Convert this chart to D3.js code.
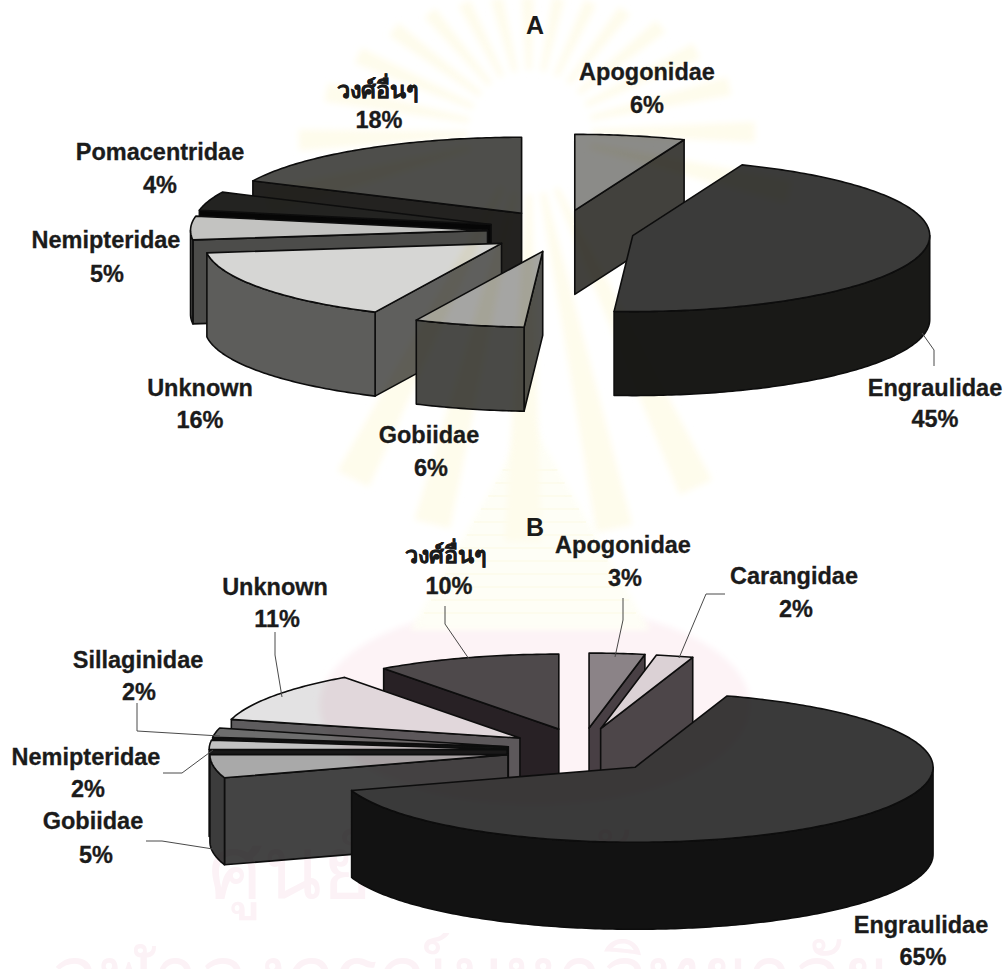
<!DOCTYPE html>
<html>
<head>
<meta charset="utf-8">
<title>Fish family composition</title>
<script src="https://cdn.jsdelivr.net/npm/d3@7/dist/d3.min.js"></script>
<style>
  html, body { margin: 0; padding: 0; background: #fff; }
  svg { display: block; }
  text { font-family: "Liberation Sans", Arial, sans-serif; font-weight: 700; fill: #1b1b1b; text-anchor: middle; }
</style>
</head>
<body>
<svg id="chart" width="1004" height="969" viewBox="0 0 1004 969">
  <defs>
    <filter id="soft" x="-10%" y="-10%" width="120%" height="120%"><feGaussianBlur stdDeviation="3"/></filter>
  </defs>
</svg>
<script>
// Family shares, clockwise from twelve o'clock.
const familiesA = ["Apogonidae", "Engraulidae", "Gobiidae", "Unknown", "Nemipteridae", "Pomacentridae", "วงศ์อื่นๆ"];
const sharesA = [6, 45, 6, 16, 5, 4, 18];
const familiesB = ["Apogonidae", "Carangidae", "Engraulidae", "Gobiidae", "Nemipteridae", "Sillaginidae", "Unknown", "วงศ์อื่นๆ"];
const sharesB = [3, 2, 65, 5, 2, 2, 11, 10];

// Face tones for each family, in the same order as the families.
const topTonesA = ["#8b8b88", "#3b3b3a", "#a5a5a3", "#d6d6d4", "#c3c3c1", "#232321", "#4e4e4b"];
const rimTonesA = ["#42413d", "#191917", "#4a4a47", "#5d5d5b", "#4c4c4a", "#060606", "#232220"];
const cutTonesA = ["#42413d", "#191917", "#51514e", "#5f5f5d", "#4c4c4a", "#060606", "#232220"];
const topTonesB = ["#8c8a8c", "#dddcdd", "#3a3a3a", "#a9a9a9", "#c2c2c2", "#6d6d6d", "#e3e2e3", "#4e4c4e"];
const rimTonesB = ["#484246", "#4d494b", "#121212", "#3c3c3c", "#1a1a1a", "#111111", "#5e5c5e", "#282226"];
const cutTonesB = ["#484246", "#4d494b", "#121212", "#444444", "#1a1a1a", "#111111", "#5e5c5e", "#282226"];

// Label anchors: family name on the first line, percentage on the second.
const labelsA = [
  { name: "Apogonidae", x: 647, y: 80, px: 647, py: 113 },
  { name: "Engraulidae", x: 935, y: 396, px: 935, py: 427 },
  { name: "Gobiidae", x: 429, y: 443, px: 431, py: 476 },
  { name: "Unknown", x: 200, y: 396, px: 200, py: 428 },
  { name: "Nemipteridae", x: 106, y: 248, px: 107, py: 282 },
  { name: "Pomacentridae", x: 160, y: 160, px: 160, py: 193 },
  { name: "วงศ์อื่นๆ", x: 378, y: 98, px: 379, py: 128 }
];
const labelsB = [
  { name: "Apogonidae", x: 623, y: 553, px: 625, py: 586 },
  { name: "Carangidae", x: 794, y: 584, px: 796, py: 617 },
  { name: "Engraulidae", x: 921, y: 933, px: 923, py: 965 },
  { name: "Gobiidae", x: 93, y: 829, px: 96, py: 863 },
  { name: "Nemipteridae", x: 86, y: 765, px: 88, py: 797 },
  { name: "Sillaginidae", x: 138, y: 668, px: 139, py: 700 },
  { name: "Unknown", x: 275, y: 595, px: 277, py: 627 },
  { name: "วงศ์อื่นๆ", x: 446, y: 563, px: 449, py: 594 }
];

// Leader lines from labels to their slices.
const leadersA = [[[922, 333], [934, 350], [934, 366]]];
const leadersB = [
  [[445, 606], [445, 624], [469, 659]],
  [[275, 632], [275, 655], [282, 697]],
  [[137, 703], [137, 731], [220, 736]],
  [[163, 773], [182, 773], [213, 750]],
  [[146, 841], [162, 841], [213, 849]],
  [[623, 598], [623, 620], [615, 657]],
  [[725, 594], [706, 594], [679, 658]]
];

const svg = d3.select("#chart");
const TAU = Math.PI * 2;
const HALF = Math.PI;
const outline = d3.line();

// Faint crest printed behind the figures: a rayed sun, a tiered spire, a dome and the archive's name.
function drawCrest(g) {
  const hub = { x: 530, y: 132 };
  const rayLength = deg => {
    const c = Math.cos(deg * Math.PI / 180);
    return c > 0 ? 135 + 90 * (1 - c) : 225 + 185 * -c;
  };
  g.append("ellipse").attr("cx", 535).attr("cy", 705).attr("rx", 215).attr("ry", 100).attr("fill", "#fdf3f6").attr("filter", "url(#soft)");
  g.append("path").attr("d", outline([[530, 420], [650, 630], [410, 630]])).attr("fill", "#fefef6").attr("filter", "url(#soft)");
  g.append("g").attr("stroke", "#fdfbea").attr("stroke-width", 1.5)
    .selectAll("line").data(d3.range(470, 625, 13)).join("line")
    .attr("x1", d => 530 - (d - 420) * 0.55).attr("x2", d => 530 + (d - 420) * 0.55)
    .attr("y1", d => d).attr("y2", d => d);
  g.append("g").attr("filter", "url(#soft)")
    .selectAll("path").data(d3.range(-105, 256, 13).filter(d => d < 105 || d > 145 && d < 215)).join("path")
    .attr("d", d => {
      const r = (d - 2.6) * Math.PI / 180, s = (d + 2.6) * Math.PI / 180, len = rayLength(d), inner = 62;
      return outline([
        [hub.x + inner * Math.sin(r), hub.y - inner * Math.cos(r)],
        [hub.x + len * Math.sin(r), hub.y - len * Math.cos(r)],
        [hub.x + len * Math.sin(s), hub.y - len * Math.cos(s)],
        [hub.x + inner * Math.sin(s), hub.y - inner * Math.cos(s)]
      ]);
    })
    .attr("fill", "#fefcec");
  g.append("text").attr("x", 545).attr("y", 898).attr("font-size", 86).style("fill", "#fcf2f6").style("font-weight", 400).text("ศูนย์วิทยทรัพยากร");
  g.append("text").attr("x", 470).attr("y", 1003).attr("font-size", 80).style("fill", "#fcf2f6").style("font-weight", 400).text("จุฬาลงกรณ์มหาวิทยาลัย");
}

function drawPie(cfg) {
  const pie = d3.pie().sort(null).startAngle(0).endAngle(TAU);
  const arcs = pie(cfg.shares).map((a, i) => ({ ...a, family: cfg.families[i] }));
  const topTone = d3.scaleOrdinal(cfg.families, cfg.topTones);
  const rimTone = d3.scaleOrdinal(cfg.families, cfg.rimTones);
  const cutTone = d3.scaleOrdinal(cfg.families, cfg.cutTones);

  // Unit circle to the tilted plate.
  const sx = d3.scaleLinear([-1, 1], [-cfg.rx, cfg.rx]);
  const sy = d3.scaleLinear([-1, 1], [-cfg.ry, cfg.ry]);
  const slideX = d3.scaleLinear([-1, 1], [-cfg.slideX, cfg.slideX]);
  const slideY = d3.scaleLinear([-1, 1], [-cfg.slideY, cfg.slideY]);

  const rim = (x0, y0, a0, a1, drop) => {
    const n = Math.max(2, Math.ceil((a1 - a0) / 0.015));
    return d3.range(n + 1).map(i => {
      const a = a0 + (a1 - a0) * i / n;
      return [x0 + sx(Math.sin(a)), y0 + sy(-Math.cos(a)) + drop];
    });
  };

  const placed = arcs.map(a => {
    const mid = (a.startAngle + a.endAngle) / 2;
    return { ...a, mid, x: cfg.cx + slideX(Math.sin(mid)), y: cfg.cy + slideY(-Math.cos(mid)) };
  }).sort((p, q) => d3.ascending(-Math.cos(p.mid), -Math.cos(q.mid)));

  const g = svg.append("g");
  const slices = g.selectAll("g.slice").data(placed).join("g").attr("class", "slice")
    .attr("stroke", "#0d0d0d").attr("stroke-width", 1.6).attr("stroke-linejoin", "round");

  slices.each(function (d) {
    const s = d3.select(this);
    const tip = [d.x, d.y];
    const wall = (angle, tone) => {
      const [e] = rim(d.x, d.y, angle, angle, 0);
      s.append("path")
        .attr("d", outline([tip, e, [e[0], e[1] + cfg.depth], [tip[0], tip[1] + cfg.depth]]) + "Z")
        .attr("fill", tone);
    };
    if (Math.sin(d.startAngle) < -1e-6) wall(d.startAngle, cutTone(d.family));
    if (Math.sin(d.endAngle) > 1e-6) wall(d.endAngle, cutTone(d.family));
    // Outer rim, only where it faces the viewer.
    const from = Math.max(d.startAngle, HALF / 2), to = Math.min(d.endAngle, HALF * 1.5);
    if (to > from) {
      const upper = rim(d.x, d.y, from, to, 0);
      const lower = rim(d.x, d.y, from, to, cfg.depth).reverse();
      s.append("path").attr("d", outline(upper.concat(lower)) + "Z").attr("fill", rimTone(d.family));
    }
    s.append("path")
      .attr("d", outline([tip].concat(rim(d.x, d.y, d.startAngle, d.endAngle, 0))) + "Z")
      .attr("fill", topTone(d.family));
  });

  svg.append("g").selectAll("path").data(cfg.leaders).join("path")
    .attr("d", d => outline(d)).attr("fill", "none").attr("stroke", "#4a4a4a").attr("stroke-width", 1);

  const share = new Map(arcs.map(a => [a.family, a.data]));
  const labels = svg.append("g").attr("font-size", 23.5).attr("stroke", "#1b1b1b").attr("stroke-width", 0.3);
  labels.selectAll("text.name").data(cfg.labels).join("text").attr("class", "name")
    .attr("x", d => d.x).attr("y", d => d.y).text(d => d.name);
  labels.selectAll("text.pct").data(cfg.labels).join("text").attr("class", "pct")
    .attr("x", d => d.px).attr("y", d => d.py).text(d => share.get(d.name) + "%");

  svg.append("text").attr("x", cfg.letterX).attr("y", cfg.letterY).attr("font-size", 25).text(cfg.letter);
}

drawPie({
  letter: "A", letterX: 535, letterY: 34,
  families: familiesA, shares: sharesA,
  topTones: topTonesA, rimTones: rimTonesA, cutTones: cutTonesA,
  labels: labelsA, leaders: leadersA,
  cx: 561, cy: 231, rx: 297, ry: 76, slideX: 73.5, slideY: 21, depth: 84
});
drawPie({
  letter: "B", letterX: 535, letterY: 536,
  families: familiesB, shares: sharesB,
  topTones: topTonesB, rimTones: rimTonesB, cutTones: cutTonesB,
  labels: labelsB, leaders: leadersB,
  cx: 582, cy: 751, rx: 298, ry: 75, slideX: 75, slideY: 23, depth: 87
});

// The crest shows through everything, like ink under the print.
drawCrest(svg.append("g").style("mix-blend-mode", "multiply"));
</script>
</body>
</html>
